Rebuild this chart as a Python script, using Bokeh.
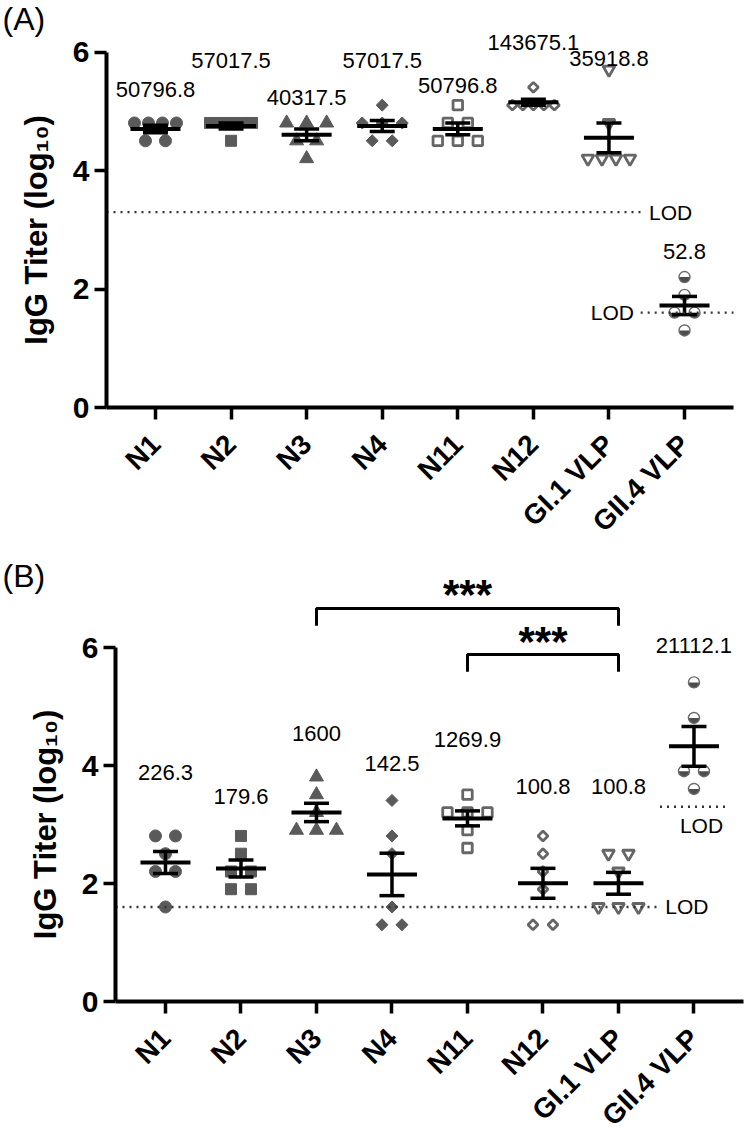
import numpy as np
from bokeh.plotting import figure
from bokeh.layouts import column
from bokeh.models import Range1d, FixedTicker
from bokeh.core.properties import value
from bokeh.embed import file_html
from bokeh.resources import INLINE

# ---------------- DATA ----------------
categories = ["N1", "N2", "N3", "N4", "N11", "N12", "GI.1 VLP", "GII.4 VLP"]

# Panel A: endpoint IgG titers per mouse
a_N1 = [64000, 64000, 64000, 64000, 32000, 32000]
a_N2 = [64000, 64000, 64000, 64000, 64000, 32000]
a_N3 = [64000, 64000, 64000, 32000, 32000, 16000]
a_N4 = [128000, 64000, 64000, 64000, 32000, 32000]
a_N11 = [128000, 64000, 64000, 32000, 32000, 32000]
a_N12 = [256000, 128000, 128000, 128000, 128000, 128000]
a_GI1 = [512000, 64000, 16000, 16000, 16000, 16000]
a_GII4 = [160, 80, 40, 40, 20]
a_gmt_text = ["50796.8", "57017.5", "40317.5", "57017.5", "50796.8", "143675.1", "35918.8", "52.8"]
a_lod_main = 2000
a_lod_gii4 = 40

# Panel B
b_N1 = [640, 640, 320, 160, 160, 40]
b_N2 = [640, 320, 160, 160, 80, 80]
b_N3 = [6400, 3200, 1600, 800, 800, 800]
b_N4 = [2560, 640, 320, 40, 20, 20]
b_N11 = [3200, 1600, 1600, 1600, 800, 400]
b_N12 = [640, 320, 160, 80, 20, 20]
b_GI1 = [320, 320, 160, 40, 40, 40]
b_GII4 = [256000, 64000, 8000, 8000, 4000]
b_gmt_text = ["226.3", "179.6", "1600", "142.5", "1269.9", "100.8", "100.8", "21112.1"]
b_lod_main = 40
b_lod_gii4 = 2000
b_sig_pairs = [("N3", "GI.1 VLP"), ("N11", "GI.1 VLP")]
b_sig_text = ["***", "***"]

# ---------------- LAYOUT / STYLE ----------------
FONT = value("Liberation Sans")
GRAY = "#5a5a5a"
OPEN = "#666666"
a_label_y = [5.38, 5.86, 5.24, 5.86, 5.44, 6.17, 5.90, 2.64]
b_label_y = [3.88, 3.47, 4.54, 4.03, 4.44, 3.64, 3.64, 6.03]
b_bracket_y = [6.66, 5.88]
styles = [
    ("circle", "filled"), ("square", "filled"), ("triangle", "filled"), ("diamond", "filled"),
    ("square", "open"), ("diamond", "open"), ("inverted_triangle", "open"), ("circle", "half"),
]
SIZES = {"circle": 12, "square": 11, "triangle": 14, "inverted_triangle": 13.5, "diamond": 8.5}


def spread(vals, px_per_unit):
    vals = np.asarray(vals, dtype=float)
    offs = np.zeros(len(vals))
    for v in np.unique(vals):
        idx = np.where(np.isclose(vals, v))[0]
        n = len(idx)
        if n > 1:
            sp = min(20.0, 42.0 / (n - 1))
            offs[idx] = (np.arange(n) - (n - 1) / 2.0) * sp / px_per_unit
    return offs


def make_panel(groups, label_y, gmt_text, width, height, xr, yr, x_axis_start, x_axis_end, pxu):
    p = figure(width=width, height=height, x_range=Range1d(*xr), y_range=Range1d(*yr),
               output_backend="svg", toolbar_location=None, title=None,
               min_border_left=0, min_border_right=0, min_border_top=0, min_border_bottom=0)
    p.outline_line_color = None
    p.grid.visible = False
    p.background_fill_color = "white"
    p.border_fill_color = "white"

    for i, (vals, (mk, kind)) in enumerate(zip(groups, styles)):
        lv = np.log10(np.asarray(vals, dtype=float))
        xs = i + spread(lv, pxu)
        angle = 0.0
        m = mk
        size = SIZES[mk]
        if mk == "diamond":
            m = "square"
            angle = np.pi / 4
        if kind == "filled":
            p.scatter(xs, lv, marker=m, size=size, angle=angle, fill_color=GRAY, line_color=GRAY, line_width=1)
        elif kind == "open":
            p.scatter(xs, lv, marker=m, size=size - 1.5, angle=angle, fill_color="white", line_color=OPEN, line_width=2.8)
        else:
            p.scatter(xs, lv, marker="circle", size=11, fill_color="white", line_color=None)
            p.wedge(xs, lv, radius=5.5, radius_units="screen", start_angle=np.pi, end_angle=2 * np.pi,
                    fill_color="#4d4d4d", line_color=None)
            p.scatter(xs, lv, marker="circle", size=11, fill_color=None, line_color="#6a6a6a", line_width=1.4)

        mean = lv.mean()
        sem = lv.std(ddof=1) / np.sqrt(len(lv))
        hw = 25.0 / pxu
        cw = 12.5 / pxu
        p.segment(x0=[i - hw], y0=[mean], x1=[i + hw], y1=[mean], line_color="black", line_width=4)
        p.segment(x0=[i], y0=[mean - sem], x1=[i], y1=[mean + sem], line_color="black", line_width=3.5)
        p.segment(x0=[i - cw, i - cw], y0=[mean - sem, mean + sem], x1=[i + cw, i + cw],
                  y1=[mean - sem, mean + sem], line_color="black", line_width=3.5)

    p.text(x=list(range(len(categories))), y=label_y, text=gmt_text, text_align="center",
           text_baseline="middle", text_font=FONT, text_font_size="22px", text_color="black")

    # category names: rotated 45 deg, right end anchored under each tick
    p.text(x=list(range(len(categories))), y=[0] * len(categories), text=categories, angle=np.pi / 4,
           text_align="right", text_baseline="middle", y_offset=32, x_offset=0,
           text_font=FONT, text_font_size="28px", text_font_style="bold", text_color="black")

    # axes drawn at fixed data locations so that the whole figure is the frame
    p.xaxis.fixed_location = 0
    p.yaxis.fixed_location = x_axis_start
    p.xaxis.bounds = (x_axis_start, x_axis_end)
    p.yaxis.bounds = (0, 6)
    p.xaxis.ticker = FixedTicker(ticks=list(range(len(categories))))
    p.xaxis.major_label_text_color = None
    p.yaxis.ticker = FixedTicker(ticks=[0, 2, 4, 6])
    p.yaxis.axis_label = "IgG Titer (log₁₀)"
    for ax in (p.xaxis[0], p.yaxis[0]):
        ax.axis_line_width = 4
        ax.axis_line_color = "black"
        ax.major_tick_line_width = 3.5
        ax.major_tick_line_color = "black"
        ax.major_tick_out = 12
        ax.major_tick_in = 0
        ax.minor_tick_line_color = None
        ax.major_label_text_font = "Liberation Sans"
        ax.major_label_text_font_style = "bold"
    p.yaxis.major_label_text_color = "black"
    p.yaxis.major_label_text_font_size = "30px"
    p.yaxis.major_label_standoff = 5
    p.yaxis.axis_label_text_font = "Liberation Sans"
    p.yaxis.axis_label_text_font_style = "bold"
    p.yaxis.axis_label_text_font_size = "31px"
    p.yaxis.axis_label_text_color = "black"
    p.yaxis.axis_label_standoff = 16
    return p


def lod_line(p, x0, x1, y):
    p.segment(x0=[x0], y0=[y], x1=[x1], y1=[y], line_color="#333333", line_width=2.4, line_dash="2 5")


def lod_text(p, x, y, align, baseline="middle"):
    p.text(x=[x], y=[y], text=["LOD"], text_align=align, text_baseline=baseline,
           text_font=FONT, text_font_size="21px", text_color="black")


def tag(p, x, y, txt):
    p.text(x=[x], y=[y], text=[txt], text_align="left", text_baseline="middle",
           text_font=FONT, text_font_size="32px", text_color="black")


# ---------------- PANEL A ----------------
pxA_x, pxA_y = 75.58, 59.2
axA = -0.648                      # data x where the y axis sits
xrA = (axA - 106 / pxA_x, 7.648 + 12 / pxA_x)
yrA = (-(554 - 407) / pxA_y, 407 / pxA_y)
groupsA = [a_N1, a_N2, a_N3, a_N4, a_N11, a_N12, a_GI1, a_GII4]
pA = make_panel(groupsA, a_label_y, a_gmt_text, 745, 554, xrA, yrA, axA, 7.648, pxA_x)
lod_line(pA, axA, 6.45, np.log10(a_lod_main))
lod_text(pA, 6.53, np.log10(a_lod_main), "left")
lod_line(pA, 6.42, 7.648, np.log10(a_lod_gii4))
lod_text(pA, 6.33, np.log10(a_lod_gii4), "right")
tag(pA, axA + (2 - 106) / pxA_x, 6.57, "(A)")

# ---------------- PANEL B ----------------
pxB_x, pxB_y = 75.5, 59.0
axB = -0.662
xrB = (axB - 115 / pxB_x, 7.656 + 4 / pxB_x)
yrB = (-(579 - 447) / pxB_y, 447 / pxB_y)
groupsB = [b_N1, b_N2, b_N3, b_N4, b_N11, b_N12, b_GI1, b_GII4]
pB = make_panel(groupsB, b_label_y, b_gmt_text, 747, 579, xrB, yrB, axB, 7.656, pxB_x)
lod_line(pB, axB, 6.52, np.log10(b_lod_main))
lod_text(pB, 6.62, np.log10(b_lod_main), "left")
lod_line(pB, 6.55, 7.45, np.log10(b_lod_gii4))
lod_text(pB, 7.1, np.log10(b_lod_gii4) - 0.13, "center", "top")

drop = 0.29
for (c0, c1), txt, yb in zip(b_sig_pairs, b_sig_text, b_bracket_y):
    i0, i1 = categories.index(c0), categories.index(c1)
    pB.multi_line(xs=[[i0, i0, i1, i1]], ys=[[yb - drop, yb, yb, yb - drop]], line_color="black", line_width=3)
    pB.text(x=[(i0 + i1) / 2], y=[yb + 0.23], text=[txt], text_align="center", text_baseline="alphabetic",
            text_font=FONT, text_font_size="42px", text_font_style="bold", text_color="black")

tag(pB, axB + (2 - 115) / pxB_x, 7.22, "(B)")

layout = column(pA, pB)
open("out.html", "w").write(file_html(layout, INLINE))
